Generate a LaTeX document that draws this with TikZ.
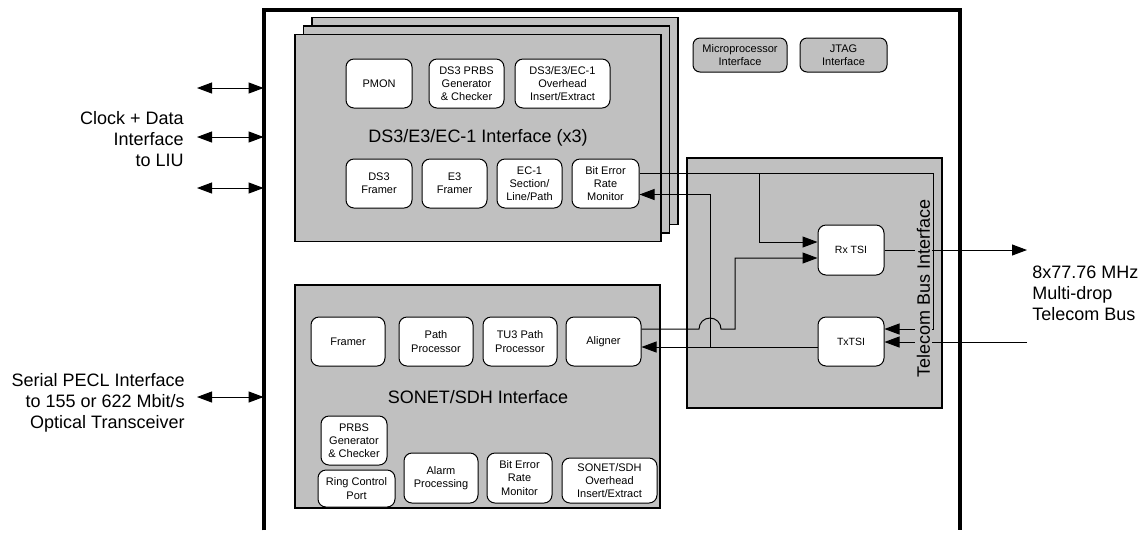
\documentclass[tikz,border=0pt]{standalone}
\usepackage{fontspec}
\setmainfont{Liberation Sans}
\usetikzlibrary{
    positioning,
    arrows.meta,
    calc
}
\definecolor{boxgray}{RGB}{192,192,192}

\begin{document}
\begin{tikzpicture}[
    x=0.5pt, y=-0.5pt,
    panel/.style={
        rectangle,
        draw,
        fill=boxgray,
        line width=0.6pt,
        minimum width=183pt,
        minimum height=103.5pt,
        inner sep=0pt,
    },
    blk/.style={
        rectangle,
        rounded corners=4pt,
        draw,
        fill=white,
        line width=0.5pt,
        align=center,
        inner sep=0pt,
        minimum width=#1,
        minimum height=24.5pt,
        font=\fontsize{5.5}{6.6}\selectfont,
    },
    blk/.default=33pt,
    grayblk/.style={
        blk=#1,
        fill=boxgray,
        minimum height=17pt,
        rounded corners=3.5pt,
    },
    bigtxt/.style={
        font=\fontsize{9}{10.5}\selectfont,
        inner sep=0pt,
    },
    sig/.style={line width=0.5pt},
    arr/.style={-{Triangle[length=7.5pt,width=5.5pt]}},
    dblarr/.style={{Triangle[length=7.5pt,width=5.5pt]}-{Triangle[length=7.5pt,width=5.5pt]}},
]
    % chip outline, open at the bottom
    \node[minimum width=348pt, minimum height=260pt, inner sep=0pt] (chip) at (612,270) {};
    \draw[line width=2pt] (chip.south west) -- (chip.north west)
        -- (chip.north east) -- (chip.south east);

    % DS3/E3/EC-1 stack
    \node[panel] (ds3c) at (495,121) {};
    \node[panel] (ds3b) at ([shift={(-4.25pt,-4.25pt)}]ds3c) {};
    \node[panel] (ds3a) at ([shift={(-4.25pt,-4.25pt)}]ds3b) {};

    \node[blk] (pmon) at (379,83.5) {PMON};
    \node[blk=37.5pt] (prbs3) [right=8pt of pmon] {DS3 PRBS\\Generator\\\& Checker};
    \node[blk=47.5pt] (oh3) [right=5pt of prbs3] {DS3/E3/EC-1\\Overhead\\Insert/Extract};

    \node[bigtxt] (ds3lbl) at (478,138) {DS3/E3/EC-1 Interface (x3)};

    \node[blk] (fr3) at (379,183.5) {DS3\\Framer};
    \node[blk=32.5pt] (fre3) [right=4.5pt of fr3] {E3\\Framer};
    \node[blk=32.5pt] (ec1) [right=4.5pt of fre3] {EC-1\\Section/\\Line/Path};
    \node[blk=33.5pt] (ber3) [right=4.5pt of ec1] {Bit Error\\Rate\\Monitor};

    % microprocessor and JTAG
    \node[grayblk=47pt] (upi) at (740,55) {Microprocessor\\Interface};
    \node[grayblk=43.5pt] (jtag) at (843.5,55) {JTAG\\Interface};

    % SONET/SDH
    \node[panel, minimum width=182.5pt, minimum height=111.5pt] (sonet) at (477.5,396.5) {};
    \node[blk=37pt] (framer) at (348,341.5) {Framer};
    \node[blk=37pt] (pathp) [right=6.5pt of framer] {Path\\Processor};
    \node[blk=37pt] (tu3) [right=4.5pt of pathp] {TU3 Path\\Processor};
    \node[blk=37.5pt] (aligner) [right=4pt of tu3] {Aligner};

    \node[bigtxt] (sonetlbl) at (478,397) {SONET/SDH Interface};

    \node[blk] (prbs) at (354,440.5) {PRBS\\Generator\\\& Checker};
    \node[blk=38.5pt, minimum height=18.5pt] (ring) at (356.5,488.5) {Ring Control\\Port};
    \node[blk=37pt, minimum height=25pt] (alarm) at (441,478) {Alarm\\Processing};
    \node[blk=32.5pt, minimum height=25pt] (ber) at (519.5,478) {Bit Error\\Rate\\Monitor};
    \node[blk=47.5pt, minimum height=22.5pt] (sdhoh) at (609.5,480.5) {SONET/SDH\\Overhead\\Insert/Extract};

    % telecom bus
    \node[panel, minimum width=127.5pt, minimum height=125pt] (tbus) at (814.5,283) {};
    \node[blk, minimum height=25pt, font=\fontsize{5.25}{6.3}\selectfont] (rxtsi) at (851,250) {Rx TSI};
    \node[blk, font=\fontsize{5.25}{6.3}\selectfont] (txtsi) at (851,341.5) {TxTSI};

    \coordinate (busx) at (933,173);
    \coordinate (rxtap) at (759,173);
    \coordinate (bertap) at (710,347);
    \coordinate (hopl) at (699,329);
    \coordinate (rxjog) at (735,258);
    \coordinate (busout) at (1027,250);
    \coordinate (busin) at (1027,342);

    \draw[sig] ([yshift=5.25pt]ber3.east) -- (busx);
    \draw[sig,arr] (busx) |- ([yshift=6.25pt]txtsi.east);
    \draw[sig,arr] (rxtap) |- ([yshift=4pt]rxtsi.west);
    \draw[sig,arr] (rxtsi.east) -- (busout);
    \draw[sig,arr] (busin) -- ([yshift=-0.25pt]txtsi.east);
    \draw[sig,arr] ([yshift=-2.75pt]txtsi.west) -- ([yshift=-2.75pt]aligner.east);
    \draw[sig,arr] (bertap) |- ([yshift=-5.5pt]ber3.east);
    \draw[sig,arr] ([yshift=6.25pt]aligner.east) -- (hopl)
        arc[start angle=180, end angle=0, radius=5.5pt] -| (rxjog)
        -- ([yshift=-4pt]rxtsi.west);

    \node[bigtxt, rotate=90, fill=boxgray, inner sep=0.8pt] (tbuslbl) at (923.5,288) {Telecom Bus Interface};

    % outside world
    \coordinate (liu1) at (197,88);
    \coordinate (liu2) at (197,137);
    \coordinate (liu3) at (197,188);
    \coordinate (pecl) at (197,397);
    \foreach \p in {liu1,liu2,liu3,pecl}
        \draw[sig,dblarr] (\p) -- (\p -| chip.west);

    \node[bigtxt, align=right, anchor=east] (liutxt) at (184,139) {Clock + Data\\Interface\\to LIU};
    \node[bigtxt, align=right, anchor=east] (pecltxt) at (185,403) {Serial PECL Interface\\to 155 or 622 Mbit/s\\Optical Transceiver};
    \node[bigtxt, align=left, anchor=west] (bustxt) at (1032,293) {8x77.76 MHz\\Multi-drop\\Telecom Bus};

    \useasboundingbox (0,0) rectangle (1146,520);
\end{tikzpicture}
\end{document}
